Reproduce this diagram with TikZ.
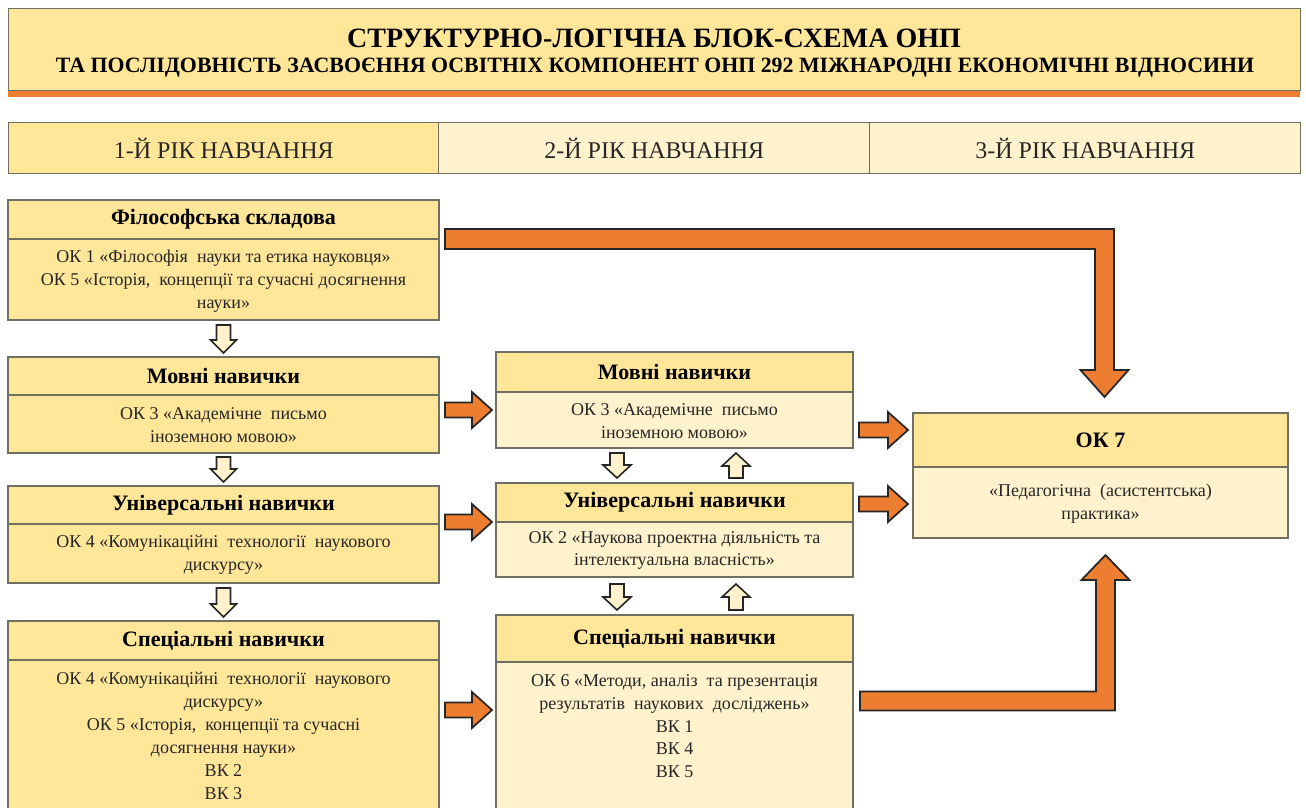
\documentclass[tikz,border=0pt]{standalone}
\usepackage{fontspec}
\setmainfont{Liberation Serif}
\usetikzlibrary{calc}
\definecolor{ydark}{HTML}{FFE699}
\definecolor{ylight}{HTML}{FFF2CC}
\definecolor{orng}{HTML}{ED7D31}
\definecolor{bordc}{HTML}{6F6F62}
\definecolor{txtc}{HTML}{262626}
\newcommand\twobox[7]{%
  \node[hbox, fill=ydark, minimum width={(#6)*0.75pt}, minimum height={(#4-#3)*0.75pt}] (#1T) at (#2,#3) {};
  \node[hbox, fill=#7, minimum width={(#6)*0.75pt}, minimum height={(#5-#4)*0.75pt}] (#1B) at (#2,#4) {};}
% vertical block arrow: #1 start, #2 tip, #3 shaft half, #4 head half, #5 signed head length, #6 style
\newcommand\vArrow[6]{%
  \draw[#6] ($(#1)+(-#3,0)$) -- ($(#1)+(#3,0)$) -- ($(#2)+(#3,{-(#5)})$) -- ($(#2)+(#4,{-(#5)})$) -- (#2)
    -- ($(#2)+(-#4,{-(#5)})$) -- ($(#2)+(-#3,{-(#5)})$) -- cycle;}
% horizontal block arrow pointing right
\newcommand\hArrow[6]{%
  \draw[#6] ($(#1)+(0,-#3)$) -- ($(#2)+(-#5,-#3)$) -- ($(#2)+(-#5,-#4)$) -- (#2)
    -- ($(#2)+(-#5,#4)$) -- ($(#2)+(-#5,#3)$) -- ($(#1)+(0,#3)$) -- cycle;}
\begin{document}
\begin{tikzpicture}[x=0.75pt,y=-0.75pt,
  hbox/.style={draw=bordc, line width=1.1pt, anchor=north west, inner sep=0pt, outer sep=0pt},
  ttltext/.style={font=\bfseries\fontsize{16.5}{19}\selectfont, text=black, inner sep=0pt},
  bodytext/.style={font=\fontsize{13.5}{17.2}\selectfont, text=txtc, align=center, inner sep=0pt},
  colhead/.style={draw=bordc, line width=1.1pt, anchor=north west, inner sep=0pt, minimum height={51*0.75pt}, font=\fontsize{18}{21}\selectfont, text=txtc},
  hollow/.style={draw=black!85, line width=1.2pt, fill=ylight, line join=miter},
  orarrow/.style={draw=black!85, line width=1.3pt, fill=orng, line join=miter}]
\clip (0,0) rectangle (1306,807);
\fill[white] (0,0) rectangle (1306,807);
% header band
\fill[orng] (8,88) rectangle (1300,97);
\node[draw=bordc, line width=1.1pt, fill=ydark, anchor=north west, inner sep=0pt, minimum width={1292*0.75pt}, minimum height={82*0.75pt}] (head) at (8,8) {};
\node[font=\bfseries\fontsize{21}{24}\selectfont, text=black, inner sep=0pt] (title1) at (654,38) {СТРУКТУРНО-ЛОГІЧНА БЛОК-СХЕМА ОНП};
\node[font=\bfseries\fontsize{16.4}{19}\selectfont, text=black, inner sep=0pt] (title2) at (655,68) {ТА ПОСЛІДОВНІСТЬ ЗАСВОЄННЯ ОСВІТНІХ КОМПОНЕНТ ОНП 292 МІЖНАРОДНІ ЕКОНОМІЧНІ ВІДНОСИНИ};
% column headers
\node[colhead, fill=ydark, minimum width={430*0.75pt}] (y1) at (8,122) {1-Й РІК НАВЧАННЯ};
\node[colhead, fill=ylight, minimum width={431*0.75pt}] (y2) at (438,122) {2-Й РІК НАВЧАННЯ};
\node[colhead, fill=ylight, minimum width={431*0.75pt}] (y3) at (869,122) {3-Й РІК НАВЧАННЯ};
% left column
\twobox{phil}{8}{200}{239}{320}{431}{ydark}
\twobox{Ll}{8}{357}{395}{453}{431}{ydark}
\twobox{Lu}{8}{486}{524}{583}{431}{ydark}
\twobox{Ls}{8}{621}{660}{830}{431}{ydark}
% middle column
\twobox{Ml}{496}{352}{392}{448}{357}{ylight}
\twobox{Mu}{496}{483}{522}{577}{357}{ylight}
\twobox{Ms}{496}{615}{662}{830}{357}{ylight}
% right
\twobox{ok7}{913}{413}{467}{538}{375}{ylight}
% texts
\node[ttltext] at (philT) {Філософська складова};
\node[bodytext] at ($(philB)+(0,2)$) {ОК 1 «Філософія\ \ науки та етика науковця»\\ОК 5 «Історія,\ \ концепції та сучасні досягнення\\науки»};
\node[ttltext] at (LlT) {Мовні навички};
\node[bodytext] at ($(LlB)+(0,1)$) {ОК 3 «Академічне\ \ письмо\\іноземною мовою»};
\node[ttltext] at (LuT) {Універсальні навички};
\node[bodytext] at ($(LuB)+(0,1)$) {ОК 4 «Комунікаційні\ \ технології\ \ наукового\\дискурсу»};
\node[ttltext] at (LsT) {Спеціальні навички};
\node[bodytext, anchor=north] at ($(LsB.north)+(0,12)$) {ОК 4 «Комунікаційні\ \ технології\ \ наукового\\дискурсу»\\ОК 5 «Історія,\ \ концепції та сучасні\\досягнення науки»\\ВК 2\\ВК 3};
\node[ttltext] at (MlT) {Мовні навички};
\node[bodytext] at ($(MlB)+(0,1)$) {ОК 3 «Академічне\ \ письмо\\іноземною мовою»};
\node[ttltext] at (MuT) {Універсальні навички};
\node[bodytext] at ($(MuB)+(0,1)$) {ОК 2 «Наукова проектна діяльність та\\інтелектуальна власність»};
\node[ttltext] at (MsT) {Спеціальні навички};
\node[bodytext, anchor=north] at ($(MsB.north)+(0,12)$) {ОК 6 «Методи, аналіз\ \ та презентація\\результатів\ \ наукових\ \ досліджень»\\ВК 1\\ВК 4\\ВК 5};
\node[ttltext] at (ok7T) {ОК 7};
\node[bodytext] at ($(ok7B)+(0,1)$) {«Педагогічна\ \ (асистентська)\\практика»};
% hollow arrows, left column
\vArrow{$(philB.south)+(0,5)$}{$(LlT.north)+(0,-4)$}{7}{13}{13}{hollow}
\vArrow{$(LlB.south)+(0,4)$}{$(LuT.north)+(0,-4)$}{7}{13}{13}{hollow}
\vArrow{$(LuB.south)+(0,5)$}{$(LsT.north)+(0,-4)$}{7}{13}{13}{hollow}
% hollow arrows, middle column
\vArrow{$(MlB.south)+(-57.5,5)$}{$(MuT.north)+(-57.5,-5)$}{7}{14}{13}{hollow}
\vArrow{$(MuT.north)+(61.5,-5)$}{$(MlB.south)+(61.5,5)$}{7}{14}{-13}{hollow}
\vArrow{$(MuB.south)+(-57.5,7)$}{$(MsT.north)+(-57.5,-5)$}{7}{14}{13}{hollow}
\vArrow{$(MsT.north)+(61.5,-5)$}{$(MuB.south)+(61.5,7)$}{7}{14}{-13}{hollow}
% orange arrows left -> middle
\coordinate (a1s) at ($(LlB.north east)+(6,15)$);
\coordinate (a1t) at ($(a1s -| MlB.west)+(-4,0)$);
\coordinate (a2s) at ($(LuB.north east)+(6,-2)$);
\coordinate (a2t) at ($(a2s -| MuB.west)+(-4,0)$);
\coordinate (a3s) at ($(LsB.north east)+(6,50)$);
\coordinate (a3t) at ($(a3s -| MsB.west)+(-4,0)$);
\hArrow{a1s}{a1t}{7.5}{18}{20}{orarrow}
\hArrow{a2s}{a2t}{7.5}{18}{20}{orarrow}
\hArrow{a3s}{a3t}{7.5}{18}{20}{orarrow}
% orange arrows middle -> right
\coordinate (b1s) at ($(MlB.north east)+(6,38)$);
\coordinate (b1t) at ($(b1s -| ok7B.west)+(-5,0)$);
\coordinate (b2s) at ($(MuB.north east)+(6,-18)$);
\coordinate (b2t) at ($(b2s -| ok7B.west)+(-5,0)$);
\hArrow{b1s}{b1t}{7.5}{18}{20}{orarrow}
\hArrow{b2s}{b2t}{7.5}{18}{20}{orarrow}
% big L arrow from philosophy to OK 7
\coordinate (c0) at ($(philT.south east)+(6,0)$);
\coordinate (c1) at ($(ok7T.north)+(4,-16)$);
\draw[orarrow] ($(c0)+(0,-10)$) -- ($(c1 |- c0)+(9.5,-10)$) -- ($(c1)+(9.5,-27)$) -- ($(c1)+(24,-27)$) -- (c1)
  -- ($(c1)+(-24,-27)$) -- ($(c1)+(-9.5,-27)$) -- ($(c1 |- c0)+(-9.5,10)$) -- ($(c0)+(0,10)$) -- cycle;
% big L arrow from middle special skills to OK 7
\coordinate (d0) at ($(MsB.north east)+(7,39)$);
\coordinate (d1) at ($(ok7B.south)+(5,17)$);
\draw[orarrow] ($(d0)+(0,-9.5)$) -- ($(d1 |- d0)+(-9.5,-9.5)$) -- ($(d1)+(-9.5,25)$) -- ($(d1)+(-24,25)$) -- (d1)
  -- ($(d1)+(24,25)$) -- ($(d1)+(9.5,25)$) -- ($(d1 |- d0)+(9.5,9.5)$) -- ($(d0)+(0,9.5)$) -- cycle;
\end{tikzpicture}
\end{document}
